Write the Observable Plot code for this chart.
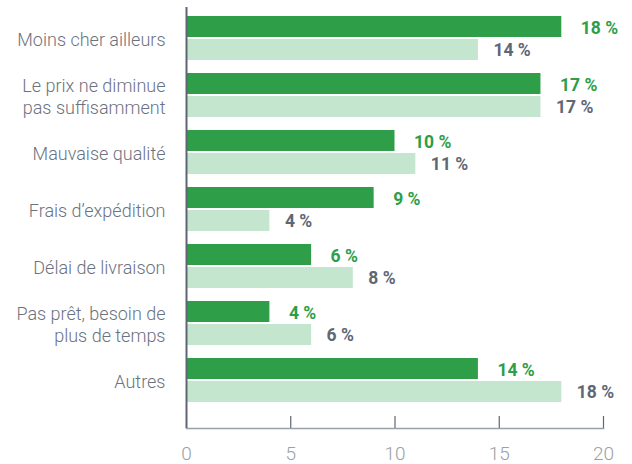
<!DOCTYPE html>
<html><head><meta charset="utf-8">
<script src="https://cdn.jsdelivr.net/npm/d3@7"></script>
<script src="https://cdn.jsdelivr.net/npm/@observablehq/plot@0.6"></script>
<style>body{margin:0;background:#fff}</style>
</head><body><div id="chart"></div>
<script>
const categories = [
  "Moins cher ailleurs",
  "Le prix ne diminue\npas suffisamment",
  "Mauvaise qualité",
  "Frais d’expédition",
  "Délai de livraison",
  "Pas prêt, besoin de\nplus de temps",
  "Autres"
];
const seriesDark = [18, 17, 10, 9, 6, 4, 14];
const seriesLight = [14, 17, 11, 4, 8, 6, 18];
const xTickLabels = [0, 5, 10, 15, 20];
const xTickMarks = [5, 10, 15, 20];

const darkData = categories.map((c, i) => ({category: c, value: seriesDark[i]}));
const lightData = categories.map((c, i) => ({category: c, value: seriesLight[i]}));

const plot = Plot.plot({
  width: 632,
  height: 464,
  marginTop: 7,
  marginBottom: 36,
  marginLeft: 186,
  marginRight: 29,
  style: {fontFamily: "Roboto, sans-serif", background: "#fff"},
  x: {domain: [0, 20], ticks: xTickLabels},
  y: {domain: categories, paddingInner: 0.2304, paddingOuter: 0.297, align: 0.265},
  marks: [
    Plot.barX(darkData, {x: "value", y: "category", fill: "#2e9e48", insetBottom: 23}),
    Plot.barX(lightData, {x: "value", y: "category", fill: "#c4e5ce", insetTop: 23}),
    Plot.text(darkData, {x: "value", y: "category", text: d => `${d.value} %`, dx: 19, dy: -10, textAnchor: "start", fill: "#2e9e48", fontWeight: 700, fontSize: 17.5}),
    Plot.text(lightData, {x: "value", y: "category", text: d => `${d.value} %`, dx: 15, dy: 11.5, textAnchor: "start", fill: "#5f6775", fontWeight: 700, fontSize: 17.5}),
    Plot.axisY({tickSize: 0, tickPadding: 21, fontSize: 18, fontWeight: 300, color: "#6b7280", lineHeight: 1.22, label: null}),
    Plot.axisX({ticks: xTickLabels, tickSize: 0, tickPadding: 18, fontSize: 19, fontWeight: 300, color: "#9aa0a6", label: null}),
    Plot.tickX(xTickMarks, {x: d => d, insetTop: 409, stroke: "#5f6673", strokeWidth: 1.2}),
    Plot.frame({anchor: "bottom", stroke: "#9aa0a8", strokeWidth: 1.5}),
    Plot.ruleX([0], {stroke: "#5f6673", strokeWidth: 2})
  ]
});
document.getElementById("chart").append(plot);
</script>
</body></html>
